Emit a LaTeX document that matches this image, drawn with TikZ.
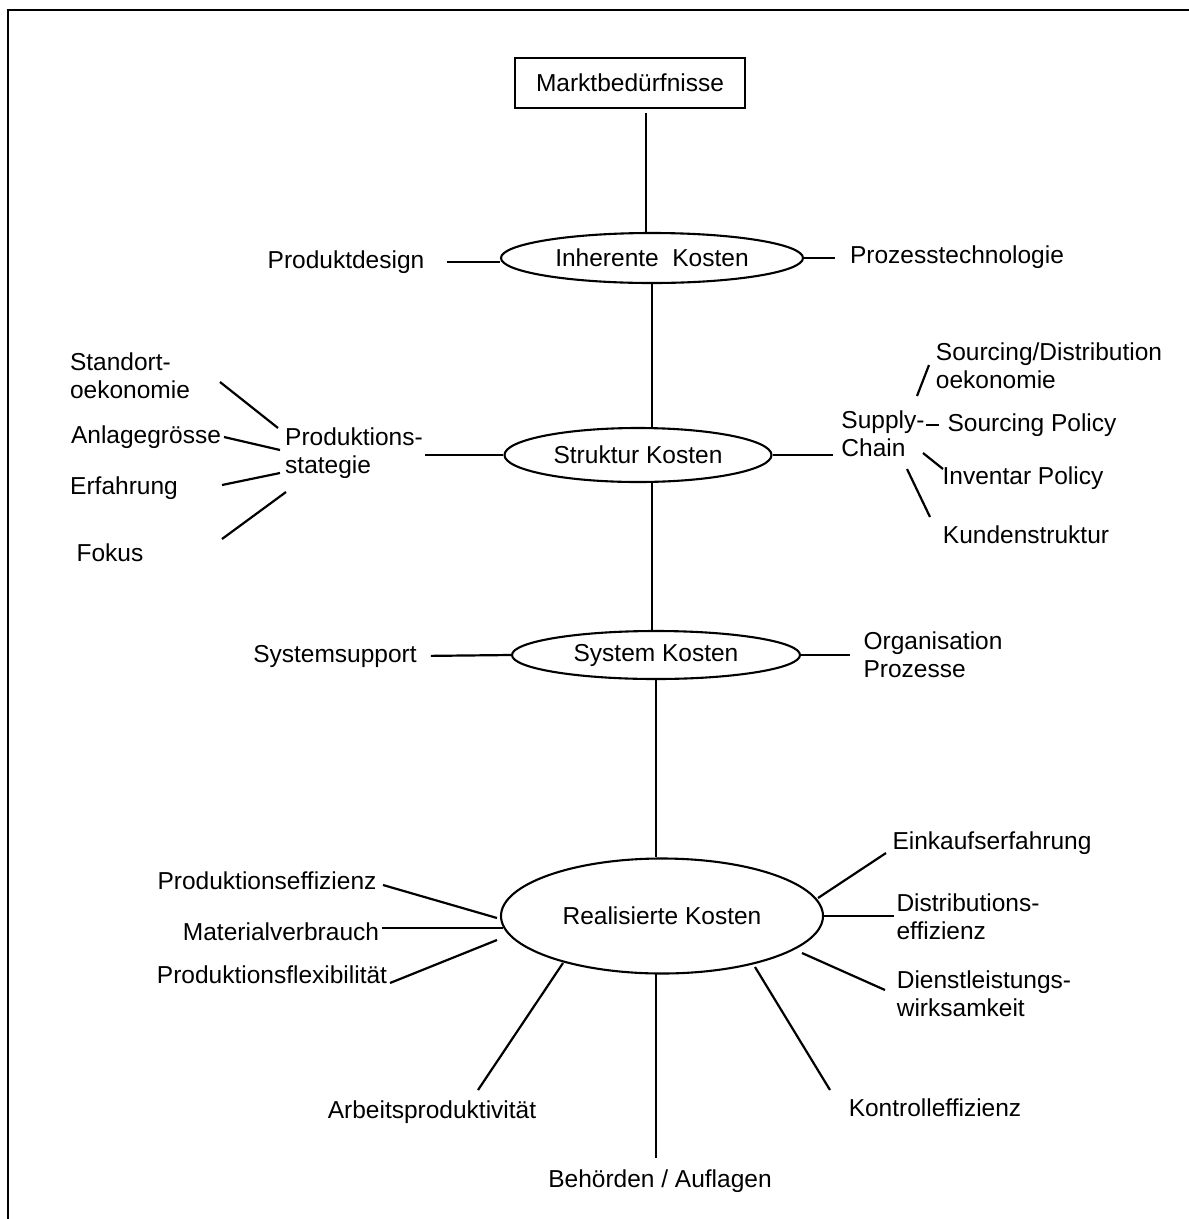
\documentclass[tikz,border=0pt]{standalone}
\usepackage{fontspec}
\setmainfont{Liberation Sans}
\usetikzlibrary{shapes.geometric}

\begin{document}
\begin{tikzpicture}[x=1pt, y=-1pt,
    every node/.style={font=\fontsize{24.5}{28}\selectfont, inner sep=2pt},
    kosten/.style={draw, ellipse, line width=2.1pt},
    merkmal/.style={align=left},
    ast/.style={line width=2.2pt},
    stamm/.style={line width=1.6pt}]
            \useasboundingbox (0,0) rectangle (1189,1219);

            % Cadre
            \draw[line width=2pt] (1189,10) -- (8,10) -- (8,1219);

            % Niveaux de couts
            \node[draw, rectangle, line width=1.8pt, minimum width=230pt, minimum height=50pt] (mb) at (630,83) {Marktbedürfnisse};
            \node[kosten, minimum width=302pt, minimum height=50pt] (ik) at (652,258) {Inherente\ \ Kosten};
            \node[kosten, minimum width=267pt, minimum height=54pt] (sk) at (638,455) {Struktur Kosten};
            \node[kosten, minimum width=288pt, minimum height=48pt] (sy) at (656,655) {System Kosten};
            \node[kosten, minimum width=322pt, minimum height=115pt] (rk) at (662,916) {Realisierte Kosten};

            % Tronc
            \draw[stamm] ([shift={(16,4)}]mb.south) -- ([shift={(-6,0)}]ik.north);
            \draw[stamm] (ik.south) -- (ik.south |- sk.north);
            \draw[stamm] (ik.south |- sk.south) -- (ik.south |- sy.north);
            \draw[stamm] (sy.south) -- (sy.south |- rk.north);

            % Inherente Kosten
            \node (pd) at (346,262) {Produktdesign};
            \node (pt) at (957,257) {Prozesstechnologie};
            \draw[ast, shorten <=20pt] (pd.east) -- (pd.east -| ik.west);
            \draw[ast, shorten >=13pt] (ik.east) -- (ik.east -| pt.west);

            % Struktur Kosten
            \node[merkmal] (ps) at (354,453) {Produktions-\\stategie};
            \node[merkmal] (so) at (130,376) {Standort-\\oekonomie};
            \node (an) at (146,437) {Anlagegrösse};
            \node (er) at (124,488) {Erfahrung};
            \node (fo) at (110,553) {Fokus};
            \node[merkmal] (sc) at (883,434) {Supply-\\Chain};
            \node[merkmal] (sd) at (1049,366) {Sourcing/Distribution\\oekonomie};
            \node (sp) at (1032,425) {Sourcing Policy};
            \node (ip) at (1023,478) {Inventar Policy};
            \node (ks) at (1026,535) {Kundenstruktur};
            \draw[ast] (sk.west) -- (sk.west -| ps.east);
            \draw[ast, shorten >=6pt] (sk.east) -- (sk.east -| sc.west);
            \foreach \a/\ax/\ay/\b/\bx/\by in {so/90/6/ps/-76/-25, an/78/0/ps/-74/-3,
                er/98/-3/ps/-74/20, fo/112/-14/ps/-68/39,
                sc/34/-38/sd/-120/-1, sc/43/-9/sp/-93/0,
                sc/40/19/ip/-80/-9, sc/24/35/ks/-96/-18} {
                \draw[ast] ([shift={(\ax,\ay)}]\a.center) -- ([shift={(\bx,\by)}]\b.center);
            }

            % System Kosten
            \node (ss) at (335,656) {Systemsupport};
            \node[merkmal] (op) at (933,655) {Organisation\\Prozesse};
            \draw[ast, shorten <=12pt] (ss.east) -- (sy.west);
            \draw[ast, shorten >=11pt] (sy.east) -- (sy.east -| op.west);

            % Realisierte Kosten
            \node (pe) at (267,881) {Produktionseffizienz};
            \node (mv) at (281,932) {Materialverbrauch};
            \node (pf) at (272,975) {Produktionsflexibilität};
            \node (ap) at (432,1112) {Arbeitsproduktivität};
            \node (bh) at (660,1181) {Behörden / Auflagen};
            \node (ke) at (935,1108) {Kontrolleffizienz};
            \node[merkmal] (dw) at (984,994) {Dienstleistungs-\\wirksamkeit};
            \node[merkmal] (de) at (968,917) {Distributions-\\effizienz};
            \node (ek) at (992,843) {Einkaufserfahrung};
            \draw[stamm] ([shift={(-6,58)}]rk.center) -- ([shift={(-4,-23)}]bh.center);
            \draw[ast] (rk.east) -- (rk.east -| de.west);
            \foreach \a/\ax/\ay/\b/\bx/\by in {pe/116/4/rk/-165/2, mv/101/-4/rk/-159/12,
                pf/118/8/rk/-165/24, rk/-99/47/ap/46/-22, rk/93/51/ke/-105/-18,
                rk/140/37/dw/-99/-4, rk/156/-18/ek/-106/10} {
                \draw[ast] ([shift={(\ax,\ay)}]\a.center) -- ([shift={(\bx,\by)}]\b.center);
            }
        \end{tikzpicture}
\end{document}
